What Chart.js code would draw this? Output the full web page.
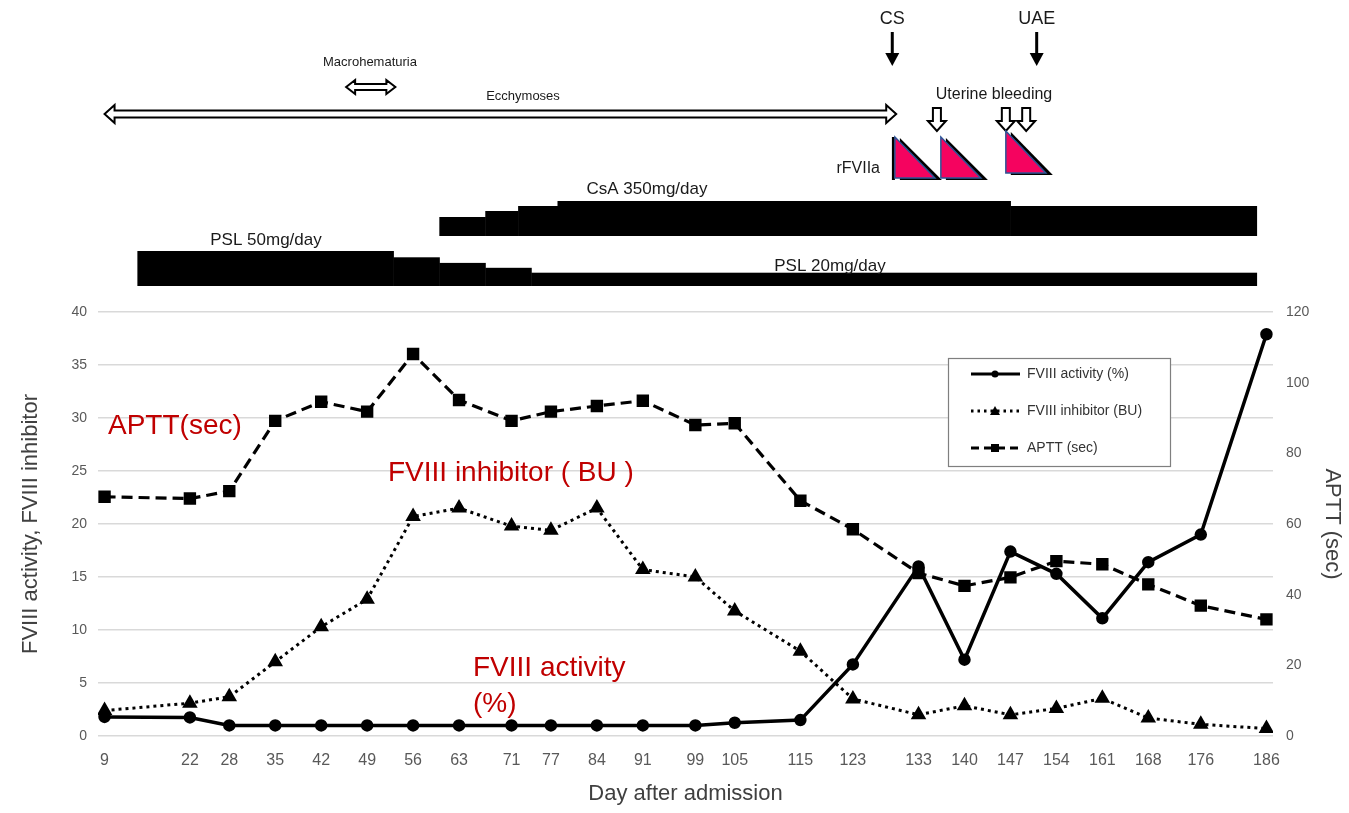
<!DOCTYPE html>
<html>
<head>
<meta charset="utf-8">
<script src="https://cdn.jsdelivr.net/npm/chart.js@4.4.1/dist/chart.umd.min.js"></script>
<style>
  html, body { margin: 0; padding: 0; background: #fff; }
  #wrap { width: 1349px; height: 813px; position: relative; }
</style>
</head>
<body>
<div id="wrap"><canvas id="chart"></canvas></div>
<script>
// days of measurement (x ticks)
const days = [9, 22, 28, 35, 42, 49, 56, 63, 71, 77, 84, 91, 99, 105, 115, 123, 133, 140, 147, 154, 161, 168, 176, 186];
const activity = [1.8, 1.75, 1.0, 1.0, 1.0, 1.0, 1.0, 1.0, 1.0, 1.0, 1.0, 1.0, 1.0, 1.25, 1.5, 6.75, 16.0, 7.2, 17.4, 15.3, 11.1, 16.4, 19.0, 37.9];
const inhibitor = [2.4, 3.1, 3.7, 7.0, 10.3, 12.9, 20.7, 21.5, 19.8, 19.4, 21.5, 15.7, 15.0, 11.8, 8.0, 3.5, 2.0, 2.85, 2.0, 2.6, 3.55, 1.7, 1.1, 0.7];
const aptt = [67.7, 67.2, 69.3, 89.2, 94.6, 91.8, 108.1, 95.1, 89.2, 91.8, 93.4, 94.9, 88.0, 88.5, 66.6, 58.5, 46.1, 42.5, 44.9, 49.5, 48.6, 42.9, 36.9, 33.0];
const leftTicks = [0, 5, 10, 15, 20, 25, 30, 35, 40];
const rightTicks = [0, 20, 40, 60, 80, 100, 120];

// treatment timeline (days / doses)
const pslFrom = [14, 53, 60, 67, 74];
const pslTo = [53, 60, 67, 74, 184.5];
const pslDose = [50, 41, 33, 26, 19];
const csaFrom = [60, 67, 72, 78, 147];
const csaTo = [67, 72, 78, 147, 184.5];
const csaDose = [190, 250, 300, 350, 300];
const ecchymosesDays = [9, 129.6];
const hematuriaDays = [45.8, 53.3];
const csDay = 129;
const uaeDay = 151;
const bleedDays = [135.8, 146.3, 149.4];
const rfviiaDays = [129.4, 136.4, 146.3];

const FONT = "'Liberation Sans', Arial, sans-serif";
const pts = (vals) => days.map((d, i) => ({ x: d, y: vals[i] }));

function hollowDouble(ctx, x1, x2, y, sh, hh, hl) {
  ctx.beginPath();
  ctx.moveTo(x1, y);
  ctx.lineTo(x1 + hl, y - hh);
  ctx.lineTo(x1 + hl, y - sh);
  ctx.lineTo(x2 - hl, y - sh);
  ctx.lineTo(x2 - hl, y - hh);
  ctx.lineTo(x2, y);
  ctx.lineTo(x2 - hl, y + hh);
  ctx.lineTo(x2 - hl, y + sh);
  ctx.lineTo(x1 + hl, y + sh);
  ctx.lineTo(x1 + hl, y + hh);
  ctx.closePath();
  ctx.fillStyle = "#fff";
  ctx.fill();
  ctx.strokeStyle = "#000";
  ctx.lineWidth = 2;
  ctx.stroke();
}

function hollowDown(ctx, x, y1, y2) {
  const sw = 4, hw = 9, hl = 10;
  ctx.beginPath();
  ctx.moveTo(x - sw, y1);
  ctx.lineTo(x + sw, y1);
  ctx.lineTo(x + sw, y2 - hl);
  ctx.lineTo(x + hw, y2 - hl);
  ctx.lineTo(x, y2);
  ctx.lineTo(x - hw, y2 - hl);
  ctx.lineTo(x - sw, y2 - hl);
  ctx.closePath();
  ctx.fillStyle = "#fff";
  ctx.fill();
  ctx.strokeStyle = "#000";
  ctx.lineWidth = 2;
  ctx.stroke();
}

function solidDown(ctx, x, y1, y2) {
  ctx.strokeStyle = "#000";
  ctx.lineWidth = 3;
  ctx.beginPath();
  ctx.moveTo(x, y1);
  ctx.lineTo(x, y2 - 10);
  ctx.stroke();
  ctx.beginPath();
  ctx.moveTo(x - 7, y2 - 13);
  ctx.lineTo(x + 7, y2 - 13);
  ctx.lineTo(x, y2);
  ctx.closePath();
  ctx.fillStyle = "#000";
  ctx.fill();
}

function rfTriangle(ctx, x, top, bottom) {
  const w = 40;
  // black drop shadow
  ctx.beginPath();
  ctx.moveTo(x + 5, top + 1);
  ctx.lineTo(x + w + 7, bottom + 2);
  ctx.lineTo(x + 5, bottom + 2);
  ctx.closePath();
  ctx.fillStyle = "#000";
  ctx.fill();
  ctx.beginPath();
  ctx.moveTo(x, top);
  ctx.lineTo(x + w, bottom);
  ctx.lineTo(x, bottom);
  ctx.closePath();
  ctx.fillStyle = "#f5035f";
  ctx.fill();
  ctx.strokeStyle = "#2f5597";
  ctx.lineWidth = 1.5;
  ctx.stroke();
}

function text(ctx, s, x, y, size, align, color) {
  ctx.font = size + "px " + FONT;
  ctx.fillStyle = color || "#1a1a1a";
  ctx.textAlign = align || "center";
  ctx.textBaseline = "middle";
  ctx.fillText(s, x, y);
}

const overlay = {
  id: "overlay",
  afterDraw(chart) {
    const ctx = chart.ctx;
    const xs = chart.scales.x;
    const px = (d) => xs.getPixelForValue(d);
    ctx.save();

    // dosing bars
    ctx.fillStyle = "#000";
    for (let i = 0; i < pslFrom.length; i++) {
      const h = pslDose[i] * 0.7;
      ctx.fillRect(px(pslFrom[i]), 286 - h, px(pslTo[i]) - px(pslFrom[i]) + 0.5, h);
    }
    for (let i = 0; i < csaFrom.length; i++) {
      const h = csaDose[i] * 0.1;
      ctx.fillStyle = "#000";
      ctx.fillRect(px(csaFrom[i]), 236 - h, px(csaTo[i]) - px(csaFrom[i]) + 0.5, h);
    }
    text(ctx, "PSL 50mg/day", 266, 240, 17);
    text(ctx, "PSL 20mg/day", 830, 266, 17);
    text(ctx, "CsA 350mg/day", 647, 189, 17);

    // symptoms
    hollowDouble(ctx, px(ecchymosesDays[0]), px(ecchymosesDays[1]), 114, 3.5, 9, 10);
    text(ctx, "Ecchymoses", 523, 96, 13);
    hollowDouble(ctx, px(hematuriaDays[0]), px(hematuriaDays[1]), 87, 3, 7, 9);
    text(ctx, "Macrohematuria", 370, 62, 13);

    // events
    solidDown(ctx, px(csDay), 32, 66);
    text(ctx, "CS", px(csDay), 19, 18);
    solidDown(ctx, px(uaeDay), 32, 66);
    text(ctx, "UAE", px(uaeDay), 19, 18);
    text(ctx, "Uterine bleeding", 994, 95, 16);
    bleedDays.forEach((d) => hollowDown(ctx, px(d), 108, 131));

    // rFVIIa
    text(ctx, "rFVIIa", 880, 169, 16, "right");
    ctx.fillStyle = "#000";
    ctx.fillRect(px(rfviiaDays[0]) - 3, 137, 3, 43);
    rfTriangle(ctx, px(rfviiaDays[0]), 137, 178);
    rfTriangle(ctx, px(rfviiaDays[1]), 137, 178);
    rfTriangle(ctx, px(rfviiaDays[2]), 131, 173);

    // red series labels
    ctx.font = "28px " + FONT;
    ctx.fillStyle = "#c00000";
    ctx.textAlign = "left";
    ctx.textBaseline = "alphabetic";
    ctx.fillText("APTT(sec)", 108, 434);
    ctx.fillText("FVIII inhibitor ( BU )", 388, 481);
    ctx.fillText("FVIII activity", 473, 676);
    ctx.fillText("(%)", 473, 712);

    // legend
    ctx.fillStyle = "#fff";
    ctx.fillRect(948, 358, 222, 108);
    ctx.strokeStyle = "#7f7f7f";
    ctx.lineWidth = 1.2;
    ctx.strokeRect(948.5, 358.5, 222, 108);
    const rows = [
      { y: 374, label: "FVIII activity (%)", dash: [], mark: "circle" },
      { y: 411, label: "FVIII inhibitor (BU)", dash: [2.5, 4], mark: "triangle" },
      { y: 448, label: "APTT (sec)", dash: [8, 5], mark: "rect" },
    ];
    rows.forEach((r) => {
      ctx.strokeStyle = "#000";
      ctx.lineWidth = 3;
      ctx.setLineDash(r.dash);
      ctx.beginPath();
      ctx.moveTo(971, r.y);
      ctx.lineTo(1020, r.y);
      ctx.stroke();
      ctx.setLineDash([]);
      ctx.fillStyle = "#000";
      ctx.beginPath();
      if (r.mark === "circle") ctx.arc(995, r.y, 3.5, 0, Math.PI * 2);
      else if (r.mark === "triangle") { ctx.moveTo(990, r.y + 4); ctx.lineTo(1000, r.y + 4); ctx.lineTo(995, r.y - 5); }
      else ctx.rect(991, r.y - 4, 8, 8);
      ctx.fill();
      text(ctx, r.label, 1027, r.y, 14, "left", "#333");
    });
    ctx.restore();
  },
};

const ctx = document.getElementById("chart").getContext("2d");
new Chart(ctx, {
  type: "line",
  data: {
    datasets: [
      {
        label: "FVIII activity (%)",
        data: pts(activity),
        yAxisID: "y",
        borderColor: "#000",
        backgroundColor: "#000",
        borderWidth: 3.5,
        pointStyle: "circle",
        pointRadius: 4.5,
        tension: 0,
      },
      {
        label: "FVIII inhibitor (BU)",
        data: pts(inhibitor),
        yAxisID: "y",
        borderColor: "#000",
        backgroundColor: "#000",
        borderWidth: 3,
        borderDash: [3, 4],
        pointStyle: "triangle",
        pointRadius: 6,
        tension: 0,
      },
      {
        label: "APTT (sec)",
        data: pts(aptt),
        yAxisID: "y1",
        borderColor: "#000",
        backgroundColor: "#000",
        borderWidth: 3.2,
        borderDash: [11, 6],
        pointStyle: "rect",
        pointRadius: 6.5,
        tension: 0,
      },
    ],
  },
  options: {
    responsive: true,
    maintainAspectRatio: false,
    animation: false,
    layout: { padding: { top: 312, left: 0, right: 0, bottom: 0 } },
    plugins: { legend: { display: false }, tooltip: { enabled: false } },
    scales: {
      x: {
        type: "linear",
        min: 8,
        max: 187,
        afterBuildTicks: (s) => { s.ticks = days.map((v) => ({ value: v })); },
        afterFit: (s) => { s.height = 77; },
        grid: { display: false },
        border: { display: false },
        ticks: { autoSkip: false, maxRotation: 0, padding: 7, color: "#595959", font: { family: FONT, size: 16 } },
        title: { display: true, text: "Day after admission", color: "#404040", font: { family: FONT, size: 22 }, padding: { top: 4, bottom: 6 } },
      },
      y: {
        position: "left",
        min: 0,
        max: 40,
        afterBuildTicks: (s) => { s.ticks = leftTicks.map((v) => ({ value: v })); },
        afterFit: (s) => { s.width = 98; },
        grid: { color: "#d9d9d9", lineWidth: 1.5, drawTicks: false },
        border: { display: false },
        ticks: { padding: 11, color: "#595959", font: { family: FONT, size: 14 } },
        title: { display: true, text: "FVIII activity, FVIII inhibitor", color: "#404040", font: { family: FONT, size: 22 }, padding: { top: 18 } },
      },
      y1: {
        position: "right",
        min: 0,
        max: 120,
        afterBuildTicks: (s) => { s.ticks = rightTicks.map((v) => ({ value: v })); },
        afterFit: (s) => { s.width = 76; },
        grid: { display: false, drawTicks: false },
        border: { display: false },
        ticks: { padding: 13, color: "#595959", font: { family: FONT, size: 14 } },
        title: { display: true, text: "APTT (sec)", color: "#404040", font: { family: FONT, size: 22 }, padding: { top: 4 } },
      },
    },
  },
  plugins: [overlay],
});
</script>
</body>
</html>
